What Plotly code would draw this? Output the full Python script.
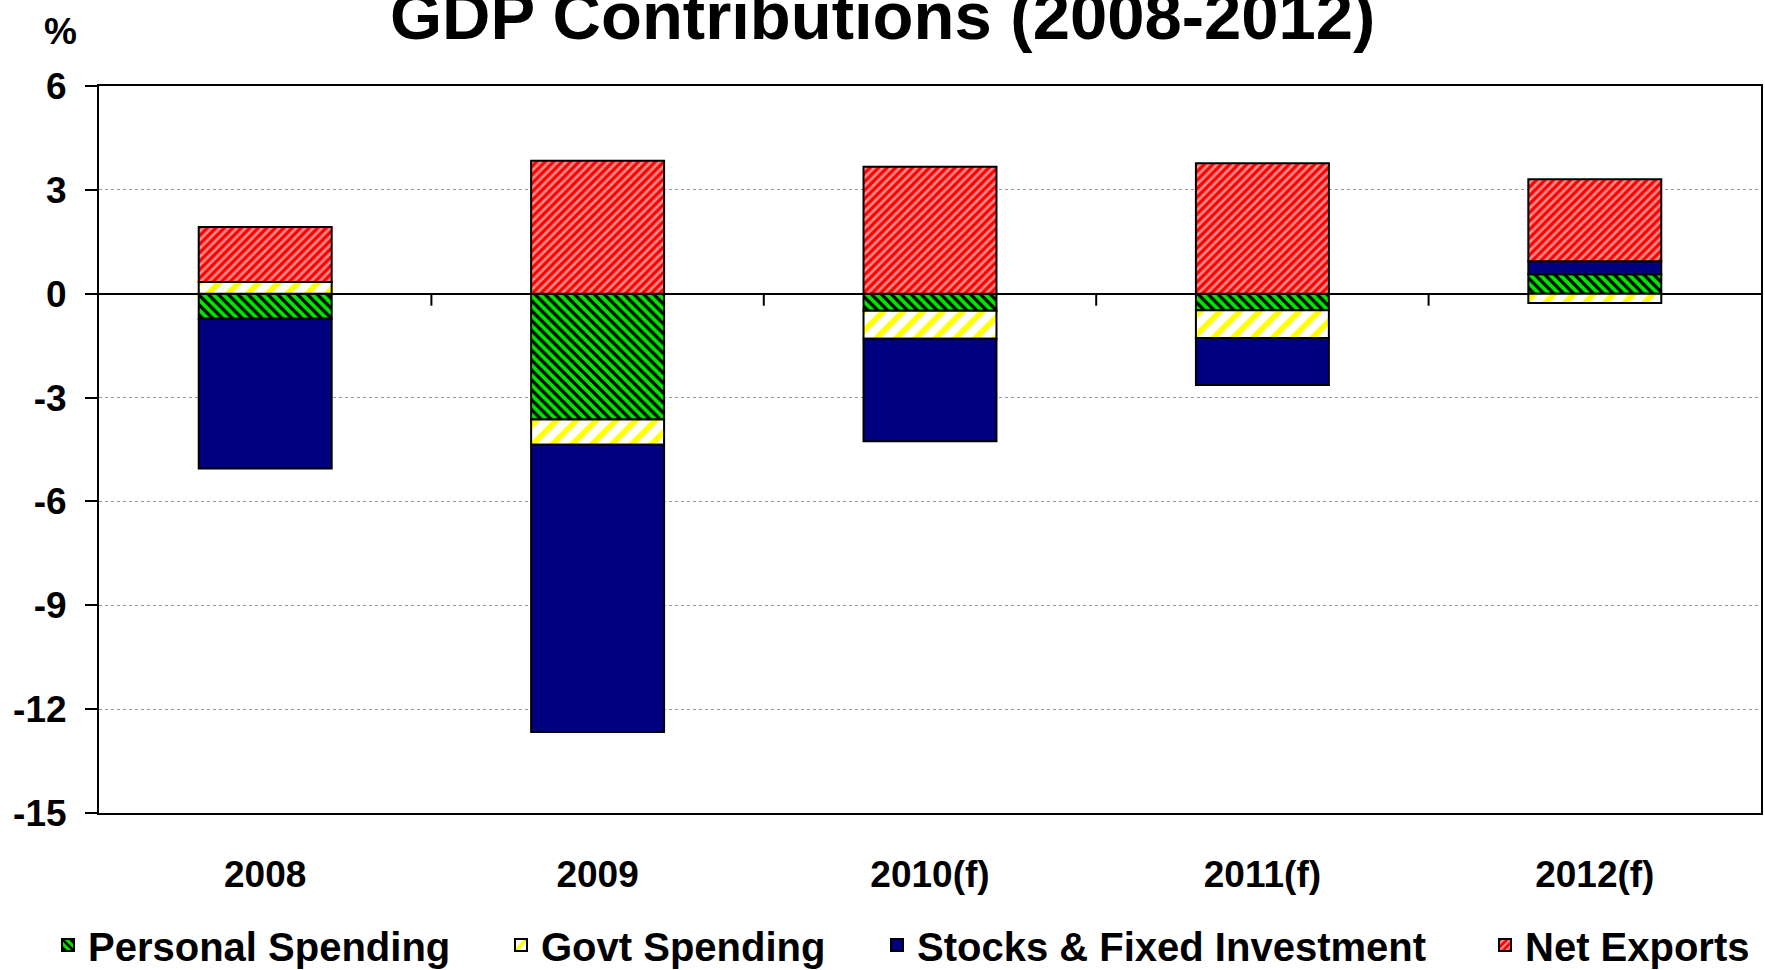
import plotly.graph_objects as go

categories = ["2008", "2009", "2010(f)", "2011(f)", "2012(f)"]
personal_spending = [-0.72, -3.63, -0.49, -0.48, 0.56]
govt_spending = [0.34, -0.73, -0.81, -0.80, -0.27]
stocks_fixed_inv = [-4.33, -8.30, -2.96, -1.36, 0.38]
net_exports = [1.59, 3.84, 3.67, 3.77, 2.37]
y_ticks = [6, 3, 0, -3, -6, -9, -12, -15]

FONT = "Liberation Sans, Arial, sans-serif"
W, H = 1765, 970
L, R, T, B = 99, 4, 86, 157
PW, PH = W - L - R, H - T - B


def px_x(x):
    return (x - L) / PW


def px_y(y):
    return (H - B - y) / PH


fig = go.Figure()
series = [
    ("Personal Spending", personal_spending, dict(shape="\\", bgcolor="#00e600", fgcolor="#000000", size=7, solidity=0.45, fillmode="replace"), "legend"),
    ("Govt Spending", govt_spending, dict(shape="/", bgcolor="#ffffff", fgcolor="#ffff00", size=14, solidity=0.4, fillmode="replace"), "legend2"),
    ("Stocks & Fixed Investment", stocks_fixed_inv, None, "legend3"),
    ("Net Exports", net_exports, dict(shape="/", bgcolor="#ff0000", fgcolor="#ff8c8c", size=6, solidity=0.45, fillmode="replace"), "legend4"),
]
for name, vals, pat, lg in series:
    marker = dict(color="#000080" if pat is None else pat["bgcolor"], line=dict(color="#000000", width=2))
    if pat is not None:
        marker["pattern"] = pat
    fig.add_trace(go.Bar(x=categories, y=vals, name=name, marker=marker, width=0.4, legend=lg))

# category boundary ticks on the zero line
for i in range(len(categories) - 1):
    fig.add_shape(type="line", xref="x", yref="y", x0=i + 0.5, x1=i + 0.5,
                  ysizemode="pixel", yanchor=0, y0=0, y1=-12,
                  line=dict(color="#000000", width=2))

legend_font = dict(family=FONT, size=40, color="#000000", weight="bold")
leg_text_x = [88, 541, 917, 1525]
legends = {}
for k, tx in enumerate(leg_text_x):
    key = "legend" if k == 0 else f"legend{k + 1}"
    legends[key] = dict(x=px_x(tx - 40), y=px_y(945), xanchor="left", yanchor="middle",
                        orientation="h", font=legend_font, bgcolor="rgba(0,0,0,0)",
                        borderwidth=0)

fig.update_layout(
    width=W, height=H,
    margin=dict(l=L, r=R, t=T, b=B, pad=0, autoexpand=False),
    barmode="relative",
    plot_bgcolor="#ffffff", paper_bgcolor="#ffffff",
    font=dict(family=FONT, color="#000000"),
    showlegend=True,
    **legends,
)
fig.update_xaxes(
    type="category", range=[-0.5, 4.5], showline=True, linecolor="#000000", linewidth=2,
    mirror=True, ticks="", showgrid=False, ticklabelstandoff=28,
    tickfont=dict(family=FONT, size=37, weight="bold", color="#000000"),
)
fig.update_yaxes(
    range=[-15, 6], tickvals=y_ticks, ticktext=[str(v) for v in y_ticks],
    showline=True, linecolor="#000000", linewidth=2, mirror=True,
    ticks="outside", ticklen=12, tickwidth=2, tickcolor="#000000",
    showgrid=True, gridcolor="#999999", gridwidth=1, griddash="dot",
    zeroline=True, zerolinecolor="#000000", zerolinewidth=2,
    ticklabelstandoff=11,
    tickfont=dict(family=FONT, size=37, weight="bold", color="#000000"),
)
fig.add_annotation(text="GDP Contributions (2008-2012)", xref="paper", yref="paper",
                   x=px_x(882.5), y=px_y(16), xanchor="center", yanchor="middle",
                   showarrow=False, font=dict(family=FONT, size=67, weight="bold", color="#000000"))
fig.add_annotation(text="%", xref="paper", yref="paper", x=px_x(60), y=px_y(31),
                   xanchor="center", yanchor="middle", showarrow=False,
                   font=dict(family=FONT, size=37, weight="bold", color="#000000"))

fig.write_html("out.html")
